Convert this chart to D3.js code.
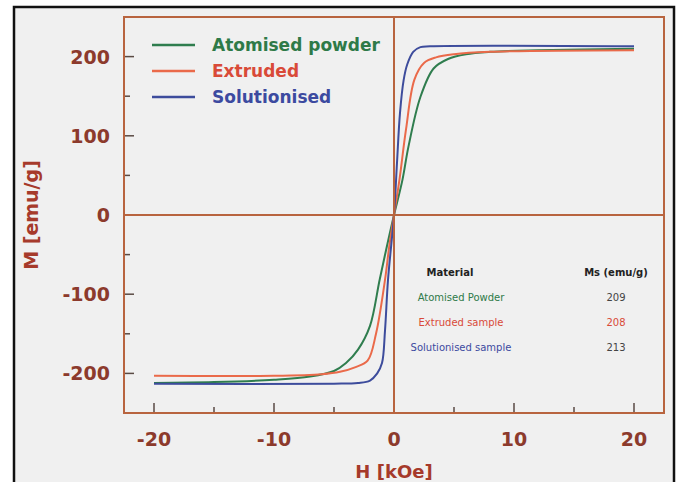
<!DOCTYPE html>
<html>
<head>
<meta charset="utf-8">
<script src="https://cdn.jsdelivr.net/npm/d3@7"></script>
<style>
  html, body { margin: 0; padding: 0; background: #ffffff; }
  svg { display: block; }
</style>
</head>
<body>
<div id="chart"></div>
<script>
// Curve data (H in kOe, M in emu/g)
const hAtomised = [-20, -15, -10, -7, -5, -4, -3, -2, -1.2, -0.6, 0, 0.7, 1.2, 2.2, 3.3, 4.5, 6, 8, 12, 20];
const mAtomised = [-212, -211, -208, -204, -197, -187, -170, -140, -82, -40, 0, 44, 86, 149, 185, 197, 203, 206, 208, 210];

const hExtruded = [-20, -10, -6, -4.5, -3.2, -2.2, -1.5, -0.75, -0.4, 0, 0.45, 1.0, 1.7, 2.5, 3.5, 5, 8, 20];
const mExtruded = [-203, -203, -201, -198, -192, -184, -150, -82, -40, 0, 44, 108, 171, 192, 199, 203, 206, 208];

const hSolution = [-20, -5, -3, -2, -1.4, -1.0, -0.75, -0.5, 0, 0.25, 0.5, 0.8, 1.1, 1.6, 2.2, 3, 20];
const mSolution = [-213, -213, -212, -209, -200, -187, -146, -82, 0, 66, 129, 170, 190, 206, 212, 213, 213];

const seriesNames = ["Atomised powder", "Extruded", "Solutionised"];
const seriesColors = ["#2f7d4e", "#ea6a4a", "#3d4c9c"];
const legendColors = ["#2e7a48", "#d94a38", "#3c4aa0"];

const xTicks = [-20, -10, 0, 10, 20];
const xMinor = [-15, -5, 5, 15];
const yTicks = [-200, -100, 0, 100, 200];
const yMinor = [-150, -50, 50, 150];

const tableHeader = ["Material", "Ms (emu/g)"];
const tableMaterials = ["Atomised Powder", "Extruded sample", "Solutionised sample"];
const tableMs = ["209", "208", "213"];

const W = 681, H = 482;
const plot = { left: 124, right: 664, top: 17, bottom: 413 };
const axisColor = "#b8643f";
const labelColor = "#8c3a2c";

const svg = d3.select("#chart").append("svg")
  .attr("width", W).attr("height", H)
  .style("font-family", "'DejaVu Sans', sans-serif");

// outer frame
svg.append("rect")
  .attr("x", 14).attr("y", 7).attr("width", 660).attr("height", 490)
  .attr("fill", "#f0f0f0").attr("stroke", "#111").attr("stroke-width", 2.5);

const x = d3.scaleLinear().domain([-22.5, 22.5]).range([plot.left, plot.right]);
const y = d3.scaleLinear().domain([-250, 250]).range([plot.bottom, plot.top]);

// tick marks (inside)
const g = svg.append("g");
g.selectAll(".xt").data(xTicks).enter().append("line")
  .attr("x1", d => x(d)).attr("x2", d => x(d))
  .attr("y1", plot.bottom).attr("y2", plot.bottom - 10)
  .attr("stroke", "#5a4a44").attr("stroke-width", 1.5);
g.selectAll(".xm").data(xMinor).enter().append("line")
  .attr("x1", d => x(d)).attr("x2", d => x(d))
  .attr("y1", plot.bottom).attr("y2", plot.bottom - 6)
  .attr("stroke", "#5a4a44").attr("stroke-width", 1.5);
g.selectAll(".yt").data(yTicks).enter().append("line")
  .attr("x1", plot.left).attr("x2", plot.left + 10)
  .attr("y1", d => y(d)).attr("y2", d => y(d))
  .attr("stroke", "#5a4a44").attr("stroke-width", 1.5);
g.selectAll(".ym").data(yMinor).enter().append("line")
  .attr("x1", plot.left).attr("x2", plot.left + 6)
  .attr("y1", d => y(d)).attr("y2", d => y(d))
  .attr("stroke", "#5a4a44").attr("stroke-width", 1.5);

// tick labels
svg.selectAll(".xl").data(xTicks).enter().append("text")
  .attr("x", d => x(d)).attr("y", 446)
  .attr("text-anchor", "middle")
  .attr("font-size", 19).attr("font-weight", "bold")
  .attr("fill", labelColor)
  .text(d => d);
svg.selectAll(".yl").data(yTicks).enter().append("text")
  .attr("x", 110).attr("y", d => y(d) + 7)
  .attr("text-anchor", "end")
  .attr("font-size", 19).attr("font-weight", "bold")
  .attr("fill", labelColor)
  .text(d => d);

// axis titles
svg.append("text")
  .attr("x", x(0)).attr("y", 478)
  .attr("text-anchor", "middle")
  .attr("font-size", 18).attr("font-weight", "bold")
  .attr("fill", "#a63a2b")
  .text("H [kOe]");
svg.append("text")
  .attr("transform", `translate(38,${y(0)}) rotate(-90)`)
  .attr("text-anchor", "middle")
  .attr("font-size", 19).attr("font-weight", "bold")
  .attr("fill", "#a63a2b")
  .text("M [emu/g]");

// curves
const series = [
  hAtomised.map((h, i) => [h, mAtomised[i]]),
  hExtruded.map((h, i) => [h, mExtruded[i]]),
  hSolution.map((h, i) => [h, mSolution[i]])
];
const line = d3.line().x(d => x(d[0])).y(d => y(d[1])).curve(d3.curveCatmullRom.alpha(0.5));
svg.append("g").selectAll("path").data(series).enter().append("path")
  .attr("d", line)
  .attr("fill", "none")
  .attr("stroke", (d, i) => seriesColors[i])
  .attr("stroke-width", 2);

// zero lines
svg.append("line")
  .attr("x1", x(0)).attr("x2", x(0)).attr("y1", plot.top).attr("y2", plot.bottom)
  .attr("stroke", axisColor).attr("stroke-width", 2);
svg.append("line")
  .attr("x1", plot.left).attr("x2", plot.right).attr("y1", y(0)).attr("y2", y(0))
  .attr("stroke", axisColor).attr("stroke-width", 2);

// plot border
svg.append("rect")
  .attr("x", plot.left).attr("y", plot.top)
  .attr("width", plot.right - plot.left).attr("height", plot.bottom - plot.top)
  .attr("fill", "none").attr("stroke", axisColor).attr("stroke-width", 2);

// legend
const legend = svg.append("g");
seriesNames.forEach((name, i) => {
  const ly = 45 + i * 26;
  legend.append("line")
    .attr("x1", 152).attr("x2", 195).attr("y1", ly).attr("y2", ly)
    .attr("stroke", seriesColors[i]).attr("stroke-width", 2.5);
  legend.append("text")
    .attr("x", 212).attr("y", ly + 6)
    .attr("font-size", 17).attr("font-weight", "bold")
    .attr("fill", legendColors[i])
    .text(name);
});

// inset table
const table = svg.append("g").attr("font-size", 10);
table.append("text").attr("x", 450).attr("y", 276).attr("text-anchor", "middle")
  .attr("font-weight", "bold").attr("fill", "#222").text(tableHeader[0]);
table.append("text").attr("x", 616).attr("y", 276).attr("text-anchor", "middle")
  .attr("font-weight", "bold").attr("fill", "#222").text(tableHeader[1]);
tableMaterials.forEach((m, i) => {
  const ty = 301 + i * 25;
  table.append("text").attr("x", 461).attr("y", ty).attr("text-anchor", "middle")
    .attr("fill", legendColors[i]).text(m);
  table.append("text").attr("x", 616).attr("y", ty).attr("text-anchor", "middle")
    .attr("fill", i === 1 ? legendColors[1] : "#444").text(tableMs[i]);
});
</script>
</body>
</html>
